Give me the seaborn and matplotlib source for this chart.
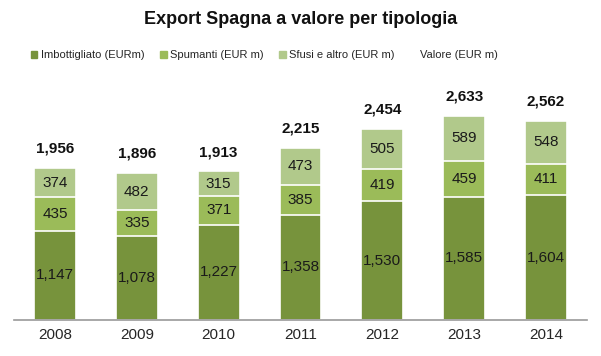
import pandas as pd
import matplotlib
matplotlib.use("Agg")
import matplotlib.pyplot as plt
import seaborn as sns
from matplotlib.patches import Patch
from matplotlib.lines import Line2D

# data
years = ['2008', '2009', '2010', '2011', '2012', '2013', '2014']
imbottigliato = [1147, 1078, 1227, 1358, 1530, 1585, 1604]
spumanti = [435, 335, 371, 385, 419, 459, 411]
sfusi = [374, 482, 315, 473, 505, 589, 548]
valore = [1956, 1896, 1913, 2215, 2454, 2633, 2562]

col_dark = '#77933C'
col_mid = '#9BBB59'
col_light = '#B1C98B'

df = pd.DataFrame({'year': years, 'imb': imbottigliato, 'spu': spumanti,
                   'sfu': sfusi, 'tot': valore})
df['lvl1'] = df['imb']
df['lvl2'] = df['imb'] + df['spu']
df['lvl3'] = df['imb'] + df['spu'] + df['sfu']

sns.set_theme(style='white')
plt.rcParams['font.family'] = ['Liberation Sans', 'DejaVu Sans']

fig = plt.figure(figsize=(6.01, 3.56), dpi=100)
ax = fig.add_axes([0.0233, 0.1011, 0.9534, 0.6545])

# stacked bars drawn back to front
for lvl, c in [('lvl3', col_light), ('lvl2', col_mid), ('lvl1', col_dark)]:
    sns.barplot(data=df, x='year', y=lvl, color=c, width=0.51,
                edgecolor='white', linewidth=1.2, saturation=1, ax=ax)

for i, row in df.iterrows():
    ax.text(i, row['imb'] / 2, f"{row['imb']:,}", ha='center', va='center',
            fontsize=11, color='#1a1a1a')
    ax.text(i, row['imb'] + row['spu'] / 2, f"{row['spu']:,}", ha='center',
            va='center', fontsize=11, color='#1a1a1a')
    ax.text(i, row['lvl2'] + row['sfu'] / 2, f"{row['sfu']:,}", ha='center',
            va='center', fontsize=11, color='#1a1a1a')
    ax.text(i, row['tot'] + 250, f"{row['tot']:,}", ha='center',
            va='center', fontsize=11, fontweight='bold', color='#111111')

ax.set_xlim(-0.5, 6.5)
ax.set_ylim(0, 3000)
ax.set_xlabel('')
ax.set_ylabel('')
ax.set_yticks([])
ax.tick_params(axis='x', length=0, labelsize=11, pad=6)
for s in ['top', 'left', 'right']:
    ax.spines[s].set_visible(False)
ax.spines['bottom'].set_color('#999999')
ax.spines['bottom'].set_linewidth(1.2)

fig.text(0.5, 0.944, 'Export Spagna a valore per tipologia', ha='center',
         va='center', fontsize=13, fontweight='bold', color='#111111')

handles = [Patch(color=col_dark), Patch(color=col_mid), Patch(color=col_light),
           Line2D([], [], color='none')]
labels = ['Imbottigliato (EURm)', 'Spumanti (EUR m)', 'Sfusi e altro (EUR m)',
          'Valore (EUR m)']
fig.legend(handles, labels, loc='center', bbox_to_anchor=(0.44, 0.845), ncol=4,
           frameon=False, fontsize=8, handlelength=0.6, handleheight=0.6,
           handletextpad=0.3, columnspacing=1.4)

fig.savefig('out.png', dpi=100)
